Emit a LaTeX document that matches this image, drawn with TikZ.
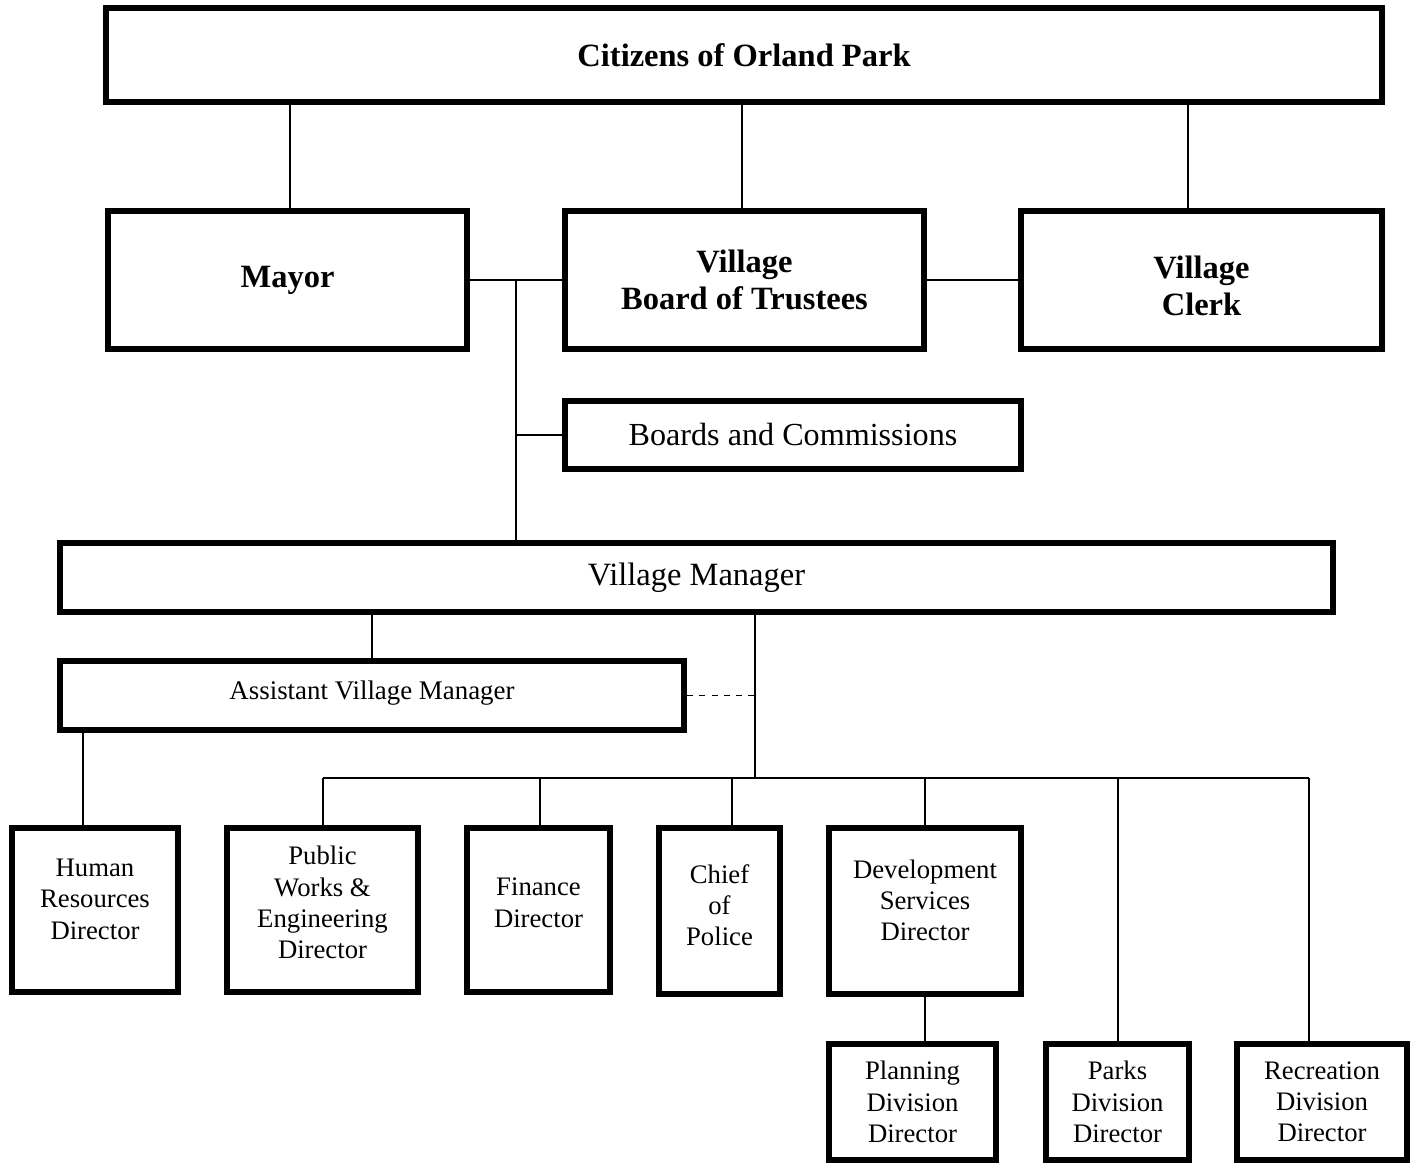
\documentclass[tikz,border=0pt]{standalone}
\usepackage{fontspec}
\setmainfont{Liberation Serif}
\usetikzlibrary{positioning}

\begin{document}
\begin{tikzpicture}[
  x=0.02cm, y=-0.02cm,
  box/.style={draw, line width=3.4pt, align=center, inner sep=2pt},
  topbox/.style={box, font=\bfseries\fontsize{18.5}{21}\selectfont},
  dirbox/.style={box, font=\fontsize{15.2}{17.8}\selectfont},
  link/.style={line width=1.1pt}
]
\useasboundingbox (0,0) rectangle (1418,1166);

% top level
\node[topbox, minimum width=25.52cm, minimum height=1.88cm] (cit) at (744,55) {Citizens of Orland Park};
\node[topbox, minimum width=7.18cm, minimum height=2.76cm] (mayor) at (287.5,280) {Mayor};
\node[topbox, minimum width=7.18cm, minimum height=2.76cm] (board) at (744.5,280) {Village\\Board of Trustees};
\node[topbox, minimum width=7.22cm, minimum height=2.76cm] (clerk) at (1201.5,280) {\rule{0pt}{19.5pt}Village\\Clerk};
\node[box, font=\fontsize{18.3}{21}\selectfont, minimum width=9.12cm, minimum height=1.36cm] (bc) at (793,435) {Boards and Commissions};

% management
\node[box, font=\fontsize{18.5}{21}\selectfont, minimum width=25.46cm, minimum height=1.38cm] (vm) at (696.5,577.5) {Village Manager};
\node[box, font=\fontsize{15.3}{18}\selectfont, minimum width=12.48cm, minimum height=1.38cm] (avm) at (372,695.5) {Assistant Village Manager\\[-12.4pt]};

% directors
\node[dirbox, minimum width=3.32cm, minimum height=3.28cm] (hr) at (95,910) {Human\\Resources\\Director\\[-5.4pt]};
\node[dirbox, minimum width=3.82cm, minimum height=3.28cm] (pw) at (322.5,910) {Public\\Works \&\\Engineering\\Director\\[-9.3pt]};
\node[dirbox, minimum width=2.86cm, minimum height=3.28cm] (fin) at (538.5,910) {Finance\\Director\\[-9.3pt]};
\node[dirbox, minimum width=2.42cm, minimum height=3.32cm] (pol) at (719.5,911) {Chief\\of\\Police\\[-11pt]};
\node[dirbox, minimum width=3.84cm, minimum height=3.32cm] (dev) at (925,911) {Development\\Services\\Director\\[-5.4pt]};
\node[dirbox, minimum width=3.34cm, minimum height=2.32cm] (plan) at (912.5,1102) {Planning\\Division\\Director};
\node[dirbox, minimum width=2.86cm, minimum height=2.32cm] (parks) at (1117.5,1102) {Parks\\Division\\Director};
\node[dirbox, minimum width=3.40cm, minimum height=2.32cm] (rec) at (1322,1102) {Recreation\\Division\\Director};

\coordinate (bus) at (755,778);

% connectors
\draw[link] (cit.south -| 290,0) -- (mayor.north -| 290,0);
\draw[link] (cit.south -| 742,0) -- (board.north -| 742,0);
\draw[link] (cit.south -| 1188,0) -- (clerk.north -| 1188,0);
\draw[link] (mayor) -- (board);
\draw[link] (board) -- (clerk);
\draw[link] (mayor.east -| 516,0) -- (vm.north -| 516,0);
\draw[link] (bc.west -| 516,0) -- (bc.west);
\draw[link] (vm.south -| avm.north) -- (avm.north);
\draw[link] (vm.south -| bus) -- (bus);
\draw[link, dash pattern=on 3.5pt off 3.5pt] (avm.east) -- (avm.east -| bus);
\draw[link] (avm.south -| 83,0) -- (hr.north -| 83,0);
\draw[link] (pw.north |- bus) -- (1309,778);
\foreach \n/\x in {pw/323, fin/540, pol/732, dev/925}
  \draw[link] (\x,778) -- (\n.north -| \x,0);
\draw[link] (1118,778) -- (parks.north -| 1118,0);
\draw[link] (1309,778) -- (rec.north -| 1309,0);
\draw[link] (dev.south) -- (plan.north -| dev.south);
\end{tikzpicture}
\end{document}
